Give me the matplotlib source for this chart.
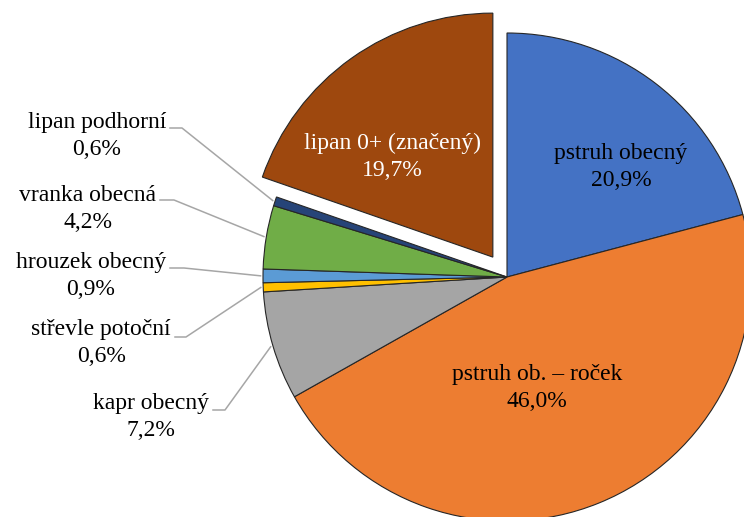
import numpy as np
import matplotlib
matplotlib.use('Agg')
import matplotlib.pyplot as plt

plt.rcParams['font.family'] = ['Liberation Serif', 'DejaVu Serif']

# data
labels = ['pstruh obecný', 'pstruh ob. – roček', 'kapr obecný', 'střevle potoční',
          'hrouzek obecný', 'vranka obecná', 'lipan podhorní', 'lipan 0+ (značený)']
values = [20.9, 46.0, 7.2, 0.6, 0.9, 4.2, 0.6, 19.7]
pct_text = ['20,9%', '46,0%', '7,2%', '0,6%', '0,9%', '4,2%', '0,6%', '19,7%']
colors = ['#4472C4', '#ED7D31', '#A5A5A5', '#FFC000', '#5B9BD5', '#70AD47', '#264478', '#9E480E']
explode = [0, 0, 0, 0, 0, 0, 0, 0.1]

W, H = 744, 517
CX, CY, R = 507, 277, 244   # pie centre / radius in pixels


def px(x, y):
    # pixel position -> data units (radius = 1)
    return (x - CX) / R, (CY - y) / R


fig = plt.figure(figsize=(W / 100, H / 100), dpi=100)
ax = fig.add_axes([0, 0, 1, 1])
wedges, _ = ax.pie(values, colors=colors, startangle=90, counterclock=False,
                   explode=explode, radius=1,
                   wedgeprops=dict(edgecolor='#262626', linewidth=0.8))
ax.set_aspect('auto')
ax.set_xlim(-CX / R, (W - CX) / R)
ax.set_ylim(-(H - CY) / R, CY / R)
ax.axis('off')

# labels inside the big slices
inside = {0: (621, 167, 'black'), 1: (537, 388, 'black'), 7: (392, 157, 'white')}
for i, (x, y, c) in inside.items():
    ax.text(*px(x, y), labels[i] + '\n' + pct_text[i], ha='center', va='center',
            multialignment='center', fontsize=17, color=c, linespacing=1.4)

# outside labels with leader lines: text right edge, text centre y, leader y, elbow x
outside = {6: (166, 136, 128, 182), 5: (156, 209, 200, 174), 4: (166, 276, 268, 184),
           3: (171, 343, 337, 186), 2: (209, 417, 410, 225)}
for i, (xr, yc, yl, xe) in outside.items():
    ax.text(*px(xr, yc), labels[i] + '\n' + pct_text[i], ha='right', va='center',
            multialignment='center', fontsize=17, color='black', linespacing=1.4)
    w = wedges[i]
    mid = np.deg2rad((w.theta1 + w.theta2) / 2)
    x0, y0 = px(xr + 4, yl)
    x1, y1 = px(xe, yl)
    ax.plot([x0, x1, np.cos(mid) * 1.01], [y0, y1, np.sin(mid) * 1.01],
            color='#A6A6A6', lw=1.1, zorder=0)

fig.savefig('out.png', dpi=100)
